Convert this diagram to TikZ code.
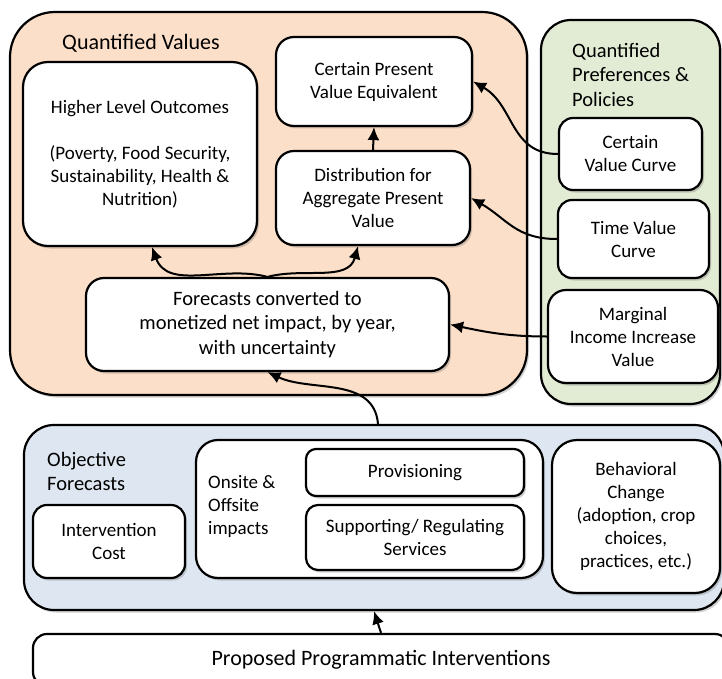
\documentclass[tikz,border=0pt]{standalone}
\usepackage{fontspec}
\setmainfont{Carlito}
\usepackage{tikz}
\usetikzlibrary{arrows.meta,shadows}
\definecolor{peach}{HTML}{FBDFC8}
\definecolor{sage}{HTML}{E2EBD4}
\definecolor{pale}{HTML}{DEE7F1}

\begin{document}
\begin{tikzpicture}[
  x=1pt, y=-1pt,
  every node/.style={font=\fontsize{19}{23}\selectfont},
  shd/.style={drop shadow={shadow xshift=2pt, shadow yshift=-2.5pt, opacity=.3, fill=black!60}},
  grp/.style={draw, line width=2.2pt, shd, inner sep=0pt},
  bx/.style={draw, line width=2.2pt, fill=white, shd, rounded corners=14pt,
             align=center, inner sep=0pt},
  ttl/.style={anchor=west, align=left, inner sep=0pt, font=\fontsize{20.5}{24.5}\selectfont},
  arr/.style={-{Latex[length=13pt,width=12pt,sharp]}, line width=2pt, line join=miter}
]
\useasboundingbox (0,0) rectangle (722,679);
\clip (0,0) rectangle (722,679);
% groups
\node[grp, fill=peach, rounded corners=45pt, minimum width=517pt, minimum height=383pt] (qv) at (268.5,203.5) {};
\node[grp, fill=sage, rounded corners=30pt, minimum width=179pt, minimum height=384pt] (qp) at (630.5,212) {};
\node[grp, fill=pale, rounded corners=30pt, minimum width=700pt, minimum height=185pt] (of) at (374,517.5) {};
\node[ttl, font=\fontsize{22}{24}\selectfont] (qvt) at (62,43) {Quantified Values};
\node[ttl] (qpt) at (572,74.5) {Quantified\\Preferences \&\\Policies};
\node[ttl] (oft) at (47,471.5) {Objective\\Forecasts};
% quantified values
\node[bx, rounded corners=25pt, minimum width=234pt, minimum height=184pt] (hlo) at (140,154)
  {Higher Level Outcomes\\[23pt](Poverty, Food Security,\\Sustainability, Health \&\\Nutrition)};
\node[bx, rounded corners=18pt, minimum width=196pt, minimum height=89pt] (cpv) at (374,81.5)
  {Certain Present\\Value Equivalent};
\node[bx, rounded corners=18pt, minimum width=194pt, minimum height=94pt] (apv) at (373,198)
  {Distribution for\\Aggregate Present\\Value};
\node[bx, rounded corners=18pt, minimum width=363pt, minimum height=93pt,
      font=\fontsize{20.5}{24.5}\selectfont] (mni) at (267.5,324.5)
  {Forecasts converted to\\monetized net impact, by year,\\with uncertainty};
% preferences
\node[bx, minimum width=143pt, minimum height=72pt] (cvc) at (630.5,154) {Certain\\Value Curve};
\node[bx, minimum width=151pt, minimum height=78pt] (tvc) at (633.5,239) {Time Value\\Curve};
\node[bx, rounded corners=18pt, minimum width=170pt, minimum height=93pt] (miv) at (633,336.5)
  {Marginal\\Income Increase\\Value};
% objective forecasts
\node[bx, minimum width=152pt, minimum height=73pt] (cost) at (109,541.5) {Intervention\\Cost};
\node[bx, rounded corners=22pt, minimum width=347pt, minimum height=138pt] (imp) at (369.5,509) {};
\node[ttl, font=\fontsize{19}{23}\selectfont] (impt) at (208,506) {Onsite \&\\Offsite\\impacts};
\node[bx, rounded corners=10pt, minimum width=218pt, minimum height=47pt] (prov) at (415,472.5) {Provisioning};
\node[bx, rounded corners=12pt, minimum width=218pt, minimum height=65pt] (serv) at (415,537.5)
  {Supporting/ Regulating\\Services};
\node[bx, rounded corners=25pt, minimum width=168pt, minimum height=153pt] (beh) at (636,516.5)
  {Behavioral\\Change\\(adoption, crop\\choices,\\practices, etc.)};
\node[bx, rounded corners=14pt, minimum width=696pt, minimum height=52pt,
      font=\fontsize{22}{24}\selectfont] (ppi) at (381,660) {Proposed Programmatic Interventions};
% connectors
\draw[arr] (mni.north) to[out=165,in=-70] ([xshift=12pt]hlo.south);
\draw[arr] (mni.north) to[out=15,in=-105] ([xshift=-15pt]apv.south);
\foreach \i/\j in {apv/cpv,ppi/of} \draw[arr] (\i.north) -- (\j.south);
\draw[arr] (cvc.west) to[out=180,in=-30,looseness=1.1] (cpv.east);
\draw[arr] (tvc.west) to[out=180,in=-30,looseness=1.1] (apv.east);
\draw[arr] (miv.west) to[out=180,in=-12] (mni.east);
\draw[arr] ([xshift=4pt]of.north) to[out=95,in=-25] (mni.south);
\end{tikzpicture}
\end{document}
